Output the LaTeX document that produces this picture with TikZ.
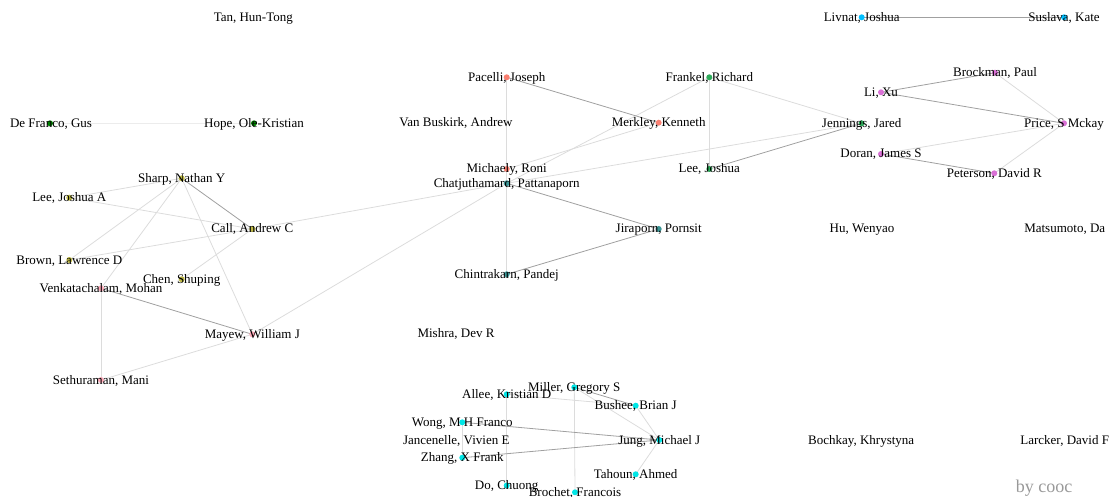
\documentclass[tikz,border=0pt]{standalone}
\usepackage{fontspec}
\setmainfont{Liberation Serif}
\definecolor{olivec}{RGB}{190,185,70}
\definecolor{pinkc}{RGB}{255,170,185}
\definecolor{salmonc}{RGB}{250,128,114}
\definecolor{greenc}{RGB}{46,170,90}
\definecolor{tealc}{RGB}{60,150,150}
\definecolor{skyc}{RGB}{0,191,255}
\definecolor{orchidc}{RGB}{218,112,214}
\definecolor{cyanc}{RGB}{0,230,230}
\definecolor{dkgreenc}{RGB}{0,128,0}
\definecolor{edgedark}{RGB}{160,160,160}
\definecolor{edgelight}{RGB}{220,220,220}
\definecolor{edgefaint}{RGB}{236,236,236}
\begin{document}
\begin{tikzpicture}[x=1pt,y=-1pt,
  dotnode/.style={circle,inner sep=0pt,minimum size=6pt},
  lbl/.style={anchor=base,inner sep=0pt,font=\fontsize{13}{15}\selectfont,text=black},
  edark/.style={draw=edgedark,line width=0.8pt},
  elight/.style={draw=edgelight,line width=0.8pt},
  efaint/.style={draw=edgefaint,line width=0.8pt}]
\useasboundingbox (0,0) rectangle (1113,497);
% coordinates
\coordinate (livnat) at (861.7,17.3);
\coordinate (suslava) at (1064,17.3);
\coordinate (pacelli) at (506.7,77.3);
\coordinate (frankel) at (709.3,77.3);
\coordinate (brockman) at (995,72.7);
\coordinate (lixu) at (881,92.3);
\coordinate (defranco) at (50,123.3);
\coordinate (hope) at (254,123.3);
\coordinate (merkley) at (658.7,122.7);
\coordinate (jennings) at (861.7,123.3);
\coordinate (price) at (1064,123.3);
\coordinate (doran) at (881,154);
\coordinate (peterson) at (994.3,173.3);
\coordinate (sharp) at (181.7,178.3);
\coordinate (michaely) at (506.7,169);
\coordinate (chat) at (506.7,183.3);
\coordinate (leejoshua) at (709.3,169);
\coordinate (leejoshuaA) at (69.3,197.7);
\coordinate (call) at (252.3,229);
\coordinate (jiraporn) at (658.7,229);
\coordinate (brown) at (69.3,260);
\coordinate (chen) at (181.7,279.3);
\coordinate (chintrakarn) at (506.7,274.3);
\coordinate (venkat) at (101,288.3);
\coordinate (mayew) at (252.3,334.3);
\coordinate (sethuraman) at (101,380);
\coordinate (miller) at (574.3,387.3);
\coordinate (allee) at (506.7,394.3);
\coordinate (bushee) at (635.7,405.7);
\coordinate (wong) at (462.3,422.3);
\coordinate (jung) at (659.3,440);
\coordinate (zhang) at (462.3,457.7);
\coordinate (tahoun) at (635.7,474.3);
\coordinate (do) at (506.7,485.5);
\coordinate (brochet) at (575,492.3);
% edges
\draw[efaint] (defranco) -- (hope);
\draw[elight] (sharp) -- (leejoshuaA);
\draw[elight] (sharp) -- (brown);
\draw[elight] (sharp) -- (venkat);
\draw[elight] (sharp) -- (mayew);
\draw[elight] (leejoshuaA) -- (call);
\draw[elight] (brown) -- (call);
\draw[elight] (call) -- (chen);
\draw[elight] (venkat) -- (sethuraman);
\draw[elight] (sethuraman) -- (mayew);
\draw[elight] (call) -- (chat);
\draw[elight] (chat) -- (jennings);
\draw[elight] (mayew) -- (chat);
\draw[elight] (chat) -- (frankel);
\draw[elight] (michaely) -- (merkley);
\draw[elight] (pacelli) -- (michaely);
\draw[elight] (michaely) -- (chat);
\draw[elight] (chat) -- (chintrakarn);
\draw[elight] (frankel) -- (leejoshua);
\draw[elight] (frankel) -- (jennings);
\draw[elight] (brockman) -- (price);
\draw[elight] (doran) -- (price);
\draw[elight] (peterson) -- (price);
\draw[elight] (allee) -- (do);
\draw[elight] (miller) -- (brochet);
\draw[elight] (miller) -- (jung);
\draw[elight] (bushee) -- (jung);
\draw[elight] (wong) -- (zhang);
\draw[elight] (jung) -- (tahoun);
\draw[edark] (livnat) -- (suslava);
\draw[edark] (sharp) -- (call);
\draw[edark] (venkat) -- (mayew);
\draw[edark] (chat) -- (jiraporn);
\draw[edark] (jiraporn) -- (chintrakarn);
\draw[edark] (leejoshua) -- (jennings);
\draw[edark] (pacelli) -- (merkley);
\draw[edark] (lixu) -- (price);
\draw[edark] (lixu) -- (brockman);
\draw[edark] (doran) -- (peterson);
\draw[edark] (wong) -- (jung);
\draw[edark] (zhang) -- (jung);
\draw[elight] (allee) -- (bushee);
\draw[edark] (miller) -- (bushee);
% dots
\foreach \n/\c in {livnat/skyc,suslava/skyc,pacelli/salmonc,merkley/salmonc,michaely/salmonc,
  frankel/greenc,leejoshua/greenc,jennings/greenc,brockman/orchidc,lixu/orchidc,price/orchidc,
  doran/orchidc,peterson/orchidc,defranco/dkgreenc,hope/dkgreenc,sharp/olivec,leejoshuaA/olivec,
  call/olivec,brown/olivec,chen/olivec,venkat/pinkc,mayew/pinkc,sethuraman/pinkc,chat/tealc,
  jiraporn/tealc,chintrakarn/tealc,miller/cyanc,allee/cyanc,bushee/cyanc,wong/cyanc,jung/cyanc,
  zhang/cyanc,tahoun/cyanc,do/cyanc,brochet/cyanc}
  {\node[dotnode,fill=\c] (\n-dot) at (\n) {};}
% labels
\node[lbl] (tan-l) at (253.3,21.3) {Tan, Hun-Tong};
\node[lbl] (livnat-l) at ([yshift=-4pt]livnat) {Livnat, Joshua};
\node[lbl] (suslava-l) at ([yshift=-4pt]suslava) {Suslava, Kate};
\node[lbl] (pacelli-l) at ([yshift=-4pt]pacelli) {Pacelli, Joseph};
\node[lbl] (frankel-l) at ([yshift=-4pt]frankel) {Frankel, Richard};
\node[lbl] (brockman-l) at ([yshift=-4pt]brockman) {Brockman, Paul};
\node[lbl] (lixu-l) at ([yshift=-4pt]lixu) {Li, Xu};
\node[lbl] (defranco-l) at ([xshift=1pt,yshift=-4pt]defranco) {De Franco, Gus};
\node[lbl] (hope-l) at ([yshift=-4pt]hope) {Hope, Ole-Kristian};
\node[lbl] (vanbuskirk-l) at (456,126.3) {Van Buskirk, Andrew};
\node[lbl] (merkley-l) at ([yshift=-4pt]merkley) {Merkley, Kenneth};
\node[lbl] (jennings-l) at ([yshift=-4pt]jennings) {Jennings, Jared};
\node[lbl] (price-l) at ([yshift=-4pt]price) {Price, S Mckay};
\node[lbl] (doran-l) at ([yshift=-4pt]doran) {Doran, James S};
\node[lbl] (peterson-l) at ([yshift=-4pt]peterson) {Peterson, David R};
\node[lbl] (sharp-l) at ([yshift=-4pt]sharp) {Sharp, Nathan Y};
\node[lbl] (michaely-l) at ([yshift=-4pt]michaely) {Michaely, Roni};
\node[lbl] (chat-l) at ([yshift=-4pt]chat) {Chatjuthamard, Pattanaporn};
\node[lbl] (leejoshua-l) at ([yshift=-4pt]leejoshua) {Lee, Joshua};
\node[lbl] (leejoshuaA-l) at ([yshift=-4pt]leejoshuaA) {Lee, Joshua A};
\node[lbl] (call-l) at ([yshift=-4pt]call) {Call, Andrew C};
\node[lbl] (jiraporn-l) at ([yshift=-4pt]jiraporn) {Jiraporn, Pornsit};
\node[lbl] (hu-l) at (862,233) {Hu, Wenyao};
\node[lbl] (matsumoto-l) at (1064.7,233) {Matsumoto, Da};
\node[lbl] (brown-l) at ([yshift=-4pt]brown) {Brown, Lawrence D};
\node[lbl] (chen-l) at ([yshift=-4pt]chen) {Chen, Shuping};
\node[lbl] (chintrakarn-l) at ([yshift=-4pt]chintrakarn) {Chintrakarn, Pandej};
\node[lbl] (venkat-l) at ([yshift=-4pt]venkat) {Venkatachalam, Mohan};
\node[lbl] (mayew-l) at ([yshift=-4pt]mayew) {Mayew, William J};
\node[lbl] (mishra-l) at (456,337) {Mishra, Dev R};
\node[lbl] (sethuraman-l) at ([yshift=-4pt]sethuraman) {Sethuraman, Mani};
\node[lbl] (miller-l) at ([yshift=-4pt]miller) {Miller, Gregory S};
\node[lbl] (allee-l) at ([yshift=-4pt]allee) {Allee, Kristian D};
\node[lbl] (bushee-l) at ([yshift=-4pt]bushee) {Bushee, Brian J};
\node[lbl] (wong-l) at ([yshift=-4pt]wong) {Wong, M H Franco};
\node[lbl] (jancenelle-l) at (456.3,444) {Jancenelle, Vivien E};
\node[lbl] (jung-l) at ([yshift=-4pt]jung) {Jung, Michael J};
\node[lbl] (zhang-l) at ([yshift=-4pt]zhang) {Zhang, X Frank};
\node[lbl] (tahoun-l) at ([yshift=-4pt]tahoun) {Tahoun, Ahmed};
\node[lbl] (do-l) at ([yshift=-4pt]do) {Do, Chuong};
\node[lbl] (brochet-l) at ([yshift=-4pt]brochet) {Brochet, Francois};
\node[lbl] (bochkay-l) at (861.2,444) {Bochkay, Khrystyna};
\node[lbl] (larcker-l) at (1064.7,444) {Larcker, David F};
\node[lbl,font=\fontsize{18}{20}\selectfont,text=black!40] (bycooc) at (1044,492) {by cooc};
\end{tikzpicture}
\end{document}
